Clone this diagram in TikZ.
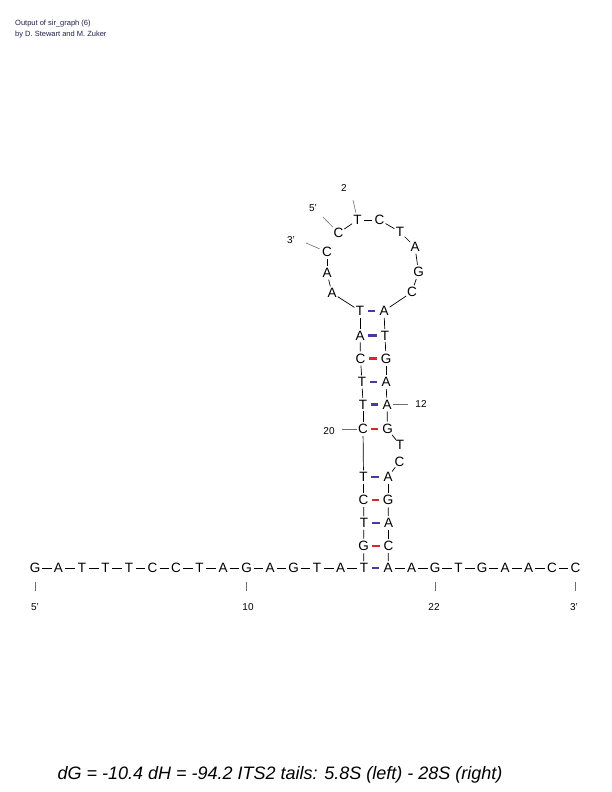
\documentclass[tikz,border=0pt]{standalone}
\usepackage{fontspec}
\setmainfont{Liberation Sans}
\definecolor{pairblue}{RGB}{70,60,160}
\definecolor{pairred}{RGB}{215,40,40}
\definecolor{headcol}{RGB}{30,30,80}
\definecolor{lblgray}{RGB}{110,110,110}
\begin{document}
\begin{tikzpicture}[x=1pt,y=-1pt,
  nt/.style={circle,inner sep=0pt,minimum size=12pt,text height=9.7pt,text depth=0pt,font=\fontsize{13.5}{14}\selectfont},
  bb/.style={draw=black,line width=0.7pt},
  atp/.style={draw=pairblue,line width=2.2pt,shorten <=1.2pt,shorten >=1.8pt},
  gcp/.style={draw=pairred,line width=2.2pt,shorten <=1.2pt,shorten >=1.8pt},
  lbl/.style={draw=lblgray,line width=0.6pt},
  lt/.style={inner sep=0pt,font=\fontsize{10}{12}\selectfont},
  hd/.style={anchor=base west,inner sep=0pt,text=headcol,font=\fontsize{7.5}{9}\selectfont}]
\useasboundingbox (0,0) rectangle (612,792);
% header
\node[hd] (h1) at (15,26) {Output of sir\_graph (6)};
\node[hd] (h2) at (15,36.5) {by D. Stewart and M. Zuker};
% strand 1 (5.8S)
\node[nt] (a1) at (35,568) {G};
\node[nt] (a2) at (58.5,568) {A};
\node[nt] (a3) at (82,568) {T};
\node[nt] (a4) at (105.5,568) {T};
\node[nt] (a5) at (129,568) {T};
\node[nt] (a6) at (152.5,568) {C};
\node[nt] (a7) at (176,568) {C};
\node[nt] (a8) at (199.5,568) {T};
\node[nt] (a9) at (223,568) {A};
\node[nt] (a10) at (246.5,568) {G};
\node[nt] (a11) at (270,568) {A};
\node[nt] (a12) at (293.5,568) {G};
\node[nt] (a13) at (317,568) {T};
\node[nt] (a14) at (340.5,568) {A};
\node[nt] (a15) at (364,568) {T};
\node[nt] (a16) at (363.5,546) {G};
\node[nt] (a17) at (364,523) {T};
\node[nt] (a18) at (363.5,500) {C};
\node[nt] (a19) at (363.5,477) {T};
\node[nt] (a20) at (363,429) {C};
\node[nt] (a21) at (363,404.5) {T};
\node[nt] (a22) at (362,382) {T};
\node[nt] (a23) at (360.5,358.5) {C};
\node[nt] (a24) at (360,335.5) {A};
\node[nt] (a25) at (360,311) {T};
\node[nt] (a26) at (332,293) {A};
\node[nt] (a27) at (327,273) {A};
\node[nt] (a28) at (327,252) {C};
% strand 2 (28S)
\node[nt] (b1) at (338.5,233) {C};
\node[nt] (b2) at (357.5,220) {T};
\node[nt] (b3) at (379.5,220) {C};
\node[nt] (b4) at (400,232) {T};
\node[nt] (b5) at (415,247) {A};
\node[nt] (b6) at (418.5,272) {G};
\node[nt] (b7) at (412,292) {C};
\node[nt] (b8) at (384,311) {A};
\node[nt] (b9) at (385,335.5) {T};
\node[nt] (b10) at (386,358.5) {G};
\node[nt] (b11) at (386,382) {A};
\node[nt] (b12) at (387,404.5) {A};
\node[nt] (b13) at (387.5,429) {G};
\node[nt] (b14) at (400,445) {T};
\node[nt] (b15) at (399.5,461.5) {C};
\node[nt] (b16) at (388,477) {A};
\node[nt] (b17) at (388,500) {G};
\node[nt] (b18) at (388.5,523) {A};
\node[nt] (b19) at (388.5,546) {C};
\node[nt] (b20) at (388,568) {A};
\node[nt] (b21) at (411.5,568) {A};
\node[nt] (b22) at (435,568) {G};
\node[nt] (b23) at (458.5,568) {T};
\node[nt] (b24) at (482,568) {G};
\node[nt] (b25) at (505,568) {A};
\node[nt] (b26) at (528.5,568) {A};
\node[nt] (b27) at (552,568) {C};
\node[nt] (b28) at (575.5,568) {C};
% backbone strand 1
\foreach \i [evaluate=\i as \j using int(\i+1)] in {1,...,27}
  \draw[bb] (a\i) -- (a\j);
% backbone strand 2
\foreach \i [evaluate=\i as \j using int(\i+1)] in {1,...,13,15,16,...,27}
  \draw[bb] (b\i) -- (b\j);
% base pairs
\draw[atp] (a15) -- (b20);
\draw[gcp] (a16) -- (b19);
\draw[atp] (a17) -- (b18);
\draw[gcp] (a18) -- (b17);
\draw[atp] (a19) -- (b16);
\draw[gcp] (a20) -- (b13);
\draw[atp] (a21) -- (b12);
\draw[atp] (a22) -- (b11);
\draw[gcp] (a23) -- (b10);
\draw[atp] (a24) -- (b9);
\draw[atp] (a25) -- (b8);
% labels
\node[lt] (l5b) at (35,607) {5'};
\node[lt] (l10) at (248,607) {10};
\node[lt] (l22) at (434,607) {22};
\node[lt] (l3b) at (574,607) {3'};
\node[lt] (l12) at (421,404.5) {12};
\node[lt] (l20) at (329,431) {20};
\node[lt] (l2) at (344,188) {2};
\node[lt] (l5t) at (313,208) {5'};
\node[lt] (l3t) at (291,240) {3'};
\coordinate (e5b) at (35,591);
\coordinate (e10) at (246.5,591);
\coordinate (e22) at (435,591);
\coordinate (e3b) at (575.5,591);
\coordinate (e12) at (408,404.5);
\coordinate (e20) at (341.5,429);
\coordinate (e2) at (353,200);
\coordinate (e5t) at (323,217);
\coordinate (e3t) at (306,243);
\draw[lbl,shorten <=7pt] (a1) -- (e5b);
\draw[lbl,shorten <=7pt] (a10) -- (e10);
\draw[lbl,shorten <=7pt] (b22) -- (e22);
\draw[lbl,shorten <=7pt] (b28) -- (e3b);
\draw[lbl,shorten <=-1pt] (b12) -- (e12);
\draw[lbl,shorten <=-1pt] (a20) -- (e20);
\draw[lbl,shorten <=1pt] (b2) -- (e2);
\draw[lbl,shorten <=1pt] (b1) -- (e5t);
\draw[lbl,shorten <=1pt] (a28) -- (e3t);
% title
\node[inner sep=0pt,font=\fontsize{18}{20}\selectfont\itshape] (title) at (280,775) {dG = -10.4 dH = -94.2 ITS2 tails: 5.8S (left) - 28S (right)};
\end{tikzpicture}
\end{document}
